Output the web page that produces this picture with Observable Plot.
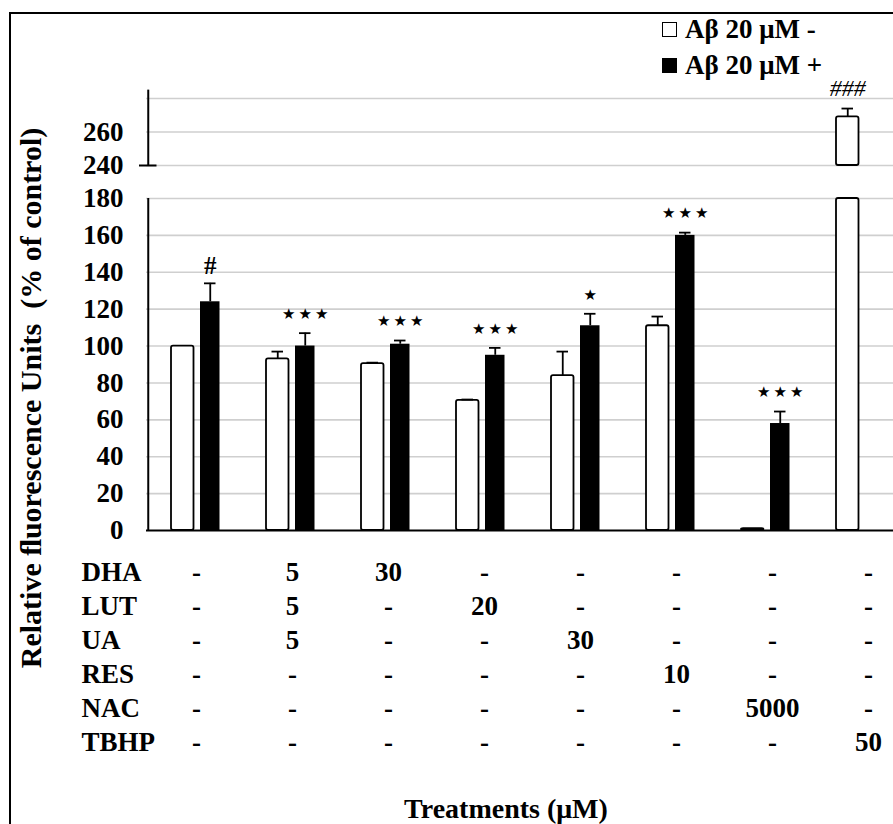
<!DOCTYPE html>
<html>
<head>
<meta charset="utf-8">
<script src="https://cdn.jsdelivr.net/npm/d3@7"></script>
<script src="https://cdn.jsdelivr.net/npm/@observablehq/plot@0.6"></script>
<style>
  html, body { margin: 0; padding: 0; background: #fff; overflow: hidden; }
  #root { position: relative; width: 893px; height: 824px; overflow: hidden;
          font-family: "Liberation Serif", "Times New Roman", serif; font-weight: bold; color: #000; }
  .abs { position: absolute; }
  #frame { left: 9px; top: 12px; width: 1000px; height: 1000px; border-left: 2px solid #000; border-top: 2px solid #000; }
  .leg { font-size: 27px; height: 30px; line-height: 30px; white-space: pre; }
  .sw { width: 13px; height: 13px; border: 1.5px solid #000; }
  #ytitle { left: -269px; top: 381px; width: 600px; height: 34px; line-height: 34px; font-size: 30px;
            text-align: center; white-space: pre; transform: rotate(-90deg); }
  #xtitle { left: 306px; top: 794px; width: 400px; height: 30px; line-height: 30px; font-size: 28px; text-align: center; }
</style>
</head>
<body>
<div id="root">
  <div id="frame" class="abs"></div>
  <div id="chart" class="abs" style="left:0;top:0"></div>
  <div id="table" class="abs" style="left:0;top:545px"></div>
  <div class="abs sw" style="left:662px;top:22px;background:#fff"></div>
  <div class="abs leg" style="left:685px;top:14px">Aβ 20 μM -</div>
  <div class="abs sw" style="left:662px;top:58px;background:#000"></div>
  <div class="abs leg" style="left:685px;top:50px">Aβ 20 μM +</div>
  <div id="ytitle" class="abs">Relative ﬂuorescence Units  (% of control)</div>
  <div id="xtitle" class="abs">Treatments (μM)</div>
</div>
<script>
// ---------- data ----------
const groups = ["Control", "DHA+LUT+UA", "DHA", "LUT", "UA", "RES", "NAC", "TBHP"];
const abMinus    = [100, 93, 90.5, 70.5, 84, 111, 1, 269];
const abMinusErr = [0, 4, 0.5, 0.5, 13, 5, 0, 5];
const abPlus     = [124, 100, 101, 95, 111, 160, 58, null];
const abPlusErr  = [10, 7, 2, 4, 6.5, 1.5, 6.5, null];
const sigMinus   = ["", "", "", "", "", "", "", "###"];
const sigPlus    = ["#", "***", "***", "***", "*", "***", "***", ""];

const yTicks   = [0, 20, 40, 60, 80, 100, 120, 140, 160, 180, 240, 260];
const gridVals = [0, 20, 40, 60, 80, 100, 120, 140, 160, 180, 240, 260, 280];
const breakLow = 180, breakHigh = 240, yTop = 280;

const agents  = ["DHA", "LUT", "UA", "RES", "NAC", "TBHP"];
const dhaDose  = ["-", "5", "30", "-", "-", "-", "-", "-"];
const lutDose  = ["-", "5", "-", "20", "-", "-", "-", "-"];
const uaDose   = ["-", "5", "-", "-", "30", "-", "-", "-"];
const resDose  = ["-", "-", "-", "-", "-", "10", "-", "-"];
const nacDose  = ["-", "-", "-", "-", "-", "-", "5000", "-"];
const tbhpDose = ["-", "-", "-", "-", "-", "-", "-", "50"];

// ---------- derived tables ----------
function pieces(values) {
  const out = [];
  values.forEach((v, i) => {
    if (v == null) return;
    if (v > breakLow) {
      out.push({group: groups[i], y1: 0, y2: breakLow});
      out.push({group: groups[i], y1: breakHigh, y2: v});
    } else out.push({group: groups[i], y1: 0, y2: v});
  });
  return out;
}
function errs(values, e, sig) {
  return values.map((v, i) => v == null ? null : ({group: groups[i], v, top: v + (e[i] || 0), err: e[i] || 0, sig: sig[i]}))
               .filter(d => d);
}
const minusBars = pieces(abMinus), plusBars = pieces(abPlus);
const minusErr = errs(abMinus, abMinusErr, sigMinus), plusErr = errs(abPlus, abPlusErr, sigPlus);
const starText = s => s.split("").map(() => "★").join("\u2009");

const xRange = [146, 910];
const step = (xRange[1] - xRange[0]) / groups.length;
// bar geometry within a band
const wL = 23, wR = 46, bL = 52, bR = 72;
const wC = (wL + wR) / 2, bC = (bL + bR) / 2;
const cap = 6;

const font = {fontFamily: "Liberation Serif, serif", fontSize: "27px", fontWeight: "bold", background: "transparent", overflow: "visible"};

const chart = Plot.plot({
  width: 893, height: 560,
  marginLeft: 146, marginRight: 0, marginTop: 0, marginBottom: 0,
  style: font,
  x: {type: "band", domain: groups, range: xRange, padding: 0, axis: null},
  y: {type: "linear", domain: [0, breakLow, breakHigh, yTop], range: [530, 198, 165, 98],
      ticks: yTicks, tickSize: 0, tickPadding: 23, label: null, tickFormat: d => String(d)},
  marks: [
    Plot.ruleY(gridVals.filter(d => d !== 0), {stroke: "#cfcfcf", strokeWidth: 1.6}),
    Plot.barY(minusBars, {x: "group", y1: "y1", y2: "y2", fill: "#fff", stroke: "#000", strokeWidth: 1.8,
      insetLeft: wL, insetRight: step - wR, rx: 2}),
    Plot.barY(plusBars, {x: "group", y1: "y1", y2: "y2", fill: "#000",
      insetLeft: bL, insetRight: step - bR}),
    Plot.ruleX(minusErr.filter(d => d.err > 0), {x: "group", y1: "v", y2: "top", dx: wC - step / 2, strokeWidth: 1.8}),
    Plot.tickY(minusErr.filter(d => d.err > 0), {x: "group", y: "top", insetLeft: wC - cap, insetRight: step - wC - cap, strokeWidth: 1.8}),
    Plot.ruleX(plusErr, {x: "group", y1: "v", y2: "top", dx: bC - step / 2, strokeWidth: 1.8}),
    Plot.tickY(plusErr, {x: "group", y: "top", insetLeft: bC - cap, insetRight: step - bC - cap, strokeWidth: 1.8}),
    // significance marks
    Plot.text(plusErr.filter(d => d.sig.includes("*")), {x: "group", y: "top", text: d => starText(d.sig),
      dx: bC - step / 2, dy: -19, fontFamily: "DejaVu Sans", fontSize: 15, fontWeight: "normal"}),
    Plot.text(plusErr.filter(d => d.sig.includes("#")), {x: "group", y: "top", text: "sig",
      dx: bC - step / 2, dy: -17, fontSize: 25}),
    Plot.text(minusErr.filter(d => d.sig.includes("#")), {x: "group", y: "top", text: "sig",
      dx: wC - step / 2, dy: -20, fontSize: 24, fontWeight: "normal", fontStyle: "italic"}),
    // broken y axis
    Plot.ruleX([[0, breakLow], [breakHigh, 285]], {x: () => groups[0], y1: d => d[0], y2: d => d[1], dx: -step / 2, strokeWidth: 2}),
    Plot.tickY([breakHigh], {x: () => groups[0], y: d => d, dx: -step / 2, insetLeft: step / 2 - 9, insetRight: step / 2 - 9, strokeWidth: 2}),
    // x axis line
    Plot.ruleY([0], {strokeWidth: 2.2})
  ]
});
document.getElementById("chart").append(chart);

// ---------- treatment table ----------
const doseRows = [dhaDose, lutDose, uaDose, resDose, nacDose, tbhpDose];
const cells = [];
agents.forEach((a, r) => doseRows[r].forEach((v, i) => cells.push({agent: a, group: groups[i], dose: v})));

const table = Plot.plot({
  width: 893, height: 235,
  marginLeft: 0, marginRight: 0, marginTop: 0, marginBottom: 0,
  style: {...font, fontSize: "27px"},
  x: {type: "band", domain: groups, range: [144, 919], padding: 0, axis: null},
  y: {type: "point", domain: agents, range: [27, 197], padding: 0, axis: null},
  marks: [
    Plot.text(cells, {x: "group", y: "agent", text: "dose"}),
    Plot.text(agents, {y: d => d, text: d => d, frameAnchor: "left", textAnchor: "start", dx: 81})
  ]
});
document.getElementById("table").append(table);
</script>
</body>
</html>
